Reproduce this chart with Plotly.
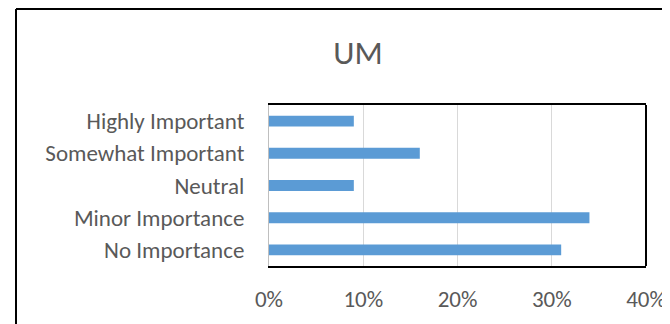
import plotly.graph_objects as go

# categories from top to bottom as drawn
categories = ["Highly Important", "Somewhat Important", "Neutral",
              "Minor Importance", "No Importance"]
shares = [0.09, 0.16, 0.09, 0.34, 0.31]
x_ticks = [0, 0.1, 0.2, 0.3, 0.4]
x_tick_labels = ["0%", "10%", "20%", "30%", "40%"]

BAR_COLOR = "#5b9bd5"
TEXT_COLOR = "#595959"
FONT = "Carlito, Calibri, 'Open Sans', sans-serif"

# page body has an 8px margin, so the figure is shrunk to fit the window
W, H = 662, 316
L, R, T, B = 261, 24, 97, 58
pw, ph = W - L - R, H - T - B

def px_x(p):
    return (p - L) / pw

def px_y(p):
    return (H - B - p) / ph

fig = go.Figure(go.Bar(
    x=shares, y=categories, orientation="h",
    marker=dict(color=BAR_COLOR, line=dict(width=0)),
))

fig.update_layout(
    width=W, height=H,
    margin=dict(l=L, r=R, t=T, b=B, autoexpand=False),
    paper_bgcolor="white", plot_bgcolor="white",
    bargap=0.66,
    showlegend=False,
    font=dict(family=FONT, color=TEXT_COLOR, size=23),
    title=dict(text="UM", x=350 / W, xanchor="center",
               y=1 - 44 / H, yanchor="middle",
               font=dict(size=33, color=TEXT_COLOR, family=FONT)),
    shapes=[
        # outer chart frame (left and top edges visible)
        dict(type="line", xref="paper", yref="paper",
             x0=px_x(8), x1=px_x(W + 10), y0=px_y(1), y1=px_y(1),
             line=dict(color="black", width=2)),
        dict(type="line", xref="paper", yref="paper",
             x0=px_x(8), x1=px_x(8), y0=px_y(1), y1=px_y(H + 10),
             line=dict(color="black", width=2)),
        # right edge of plot area
        dict(type="line", xref="paper", yref="paper",
             x0=1, x1=1, y0=0, y1=1,
             line=dict(color="black", width=2)),
    ],
)

fig.update_xaxes(
    range=[0, 0.4], tickvals=x_ticks, ticktext=x_tick_labels,
    showgrid=True, gridcolor="#d9d9d9", gridwidth=1,
    showline=True, linecolor="black", linewidth=2, mirror=True,
    zeroline=False, ticks="", ticklabelstandoff=11, automargin=False,
    tickfont=dict(size=23, color=TEXT_COLOR),
)
fig.update_yaxes(
    categoryorder="array", categoryarray=categories[::-1],
    showgrid=False, showline=True, linecolor="#bfbfbf", linewidth=1,
    ticks="", ticklabelstandoff=19, automargin=False,
    tickfont=dict(size=23, color=TEXT_COLOR),
)

fig.write_html("out.html")
